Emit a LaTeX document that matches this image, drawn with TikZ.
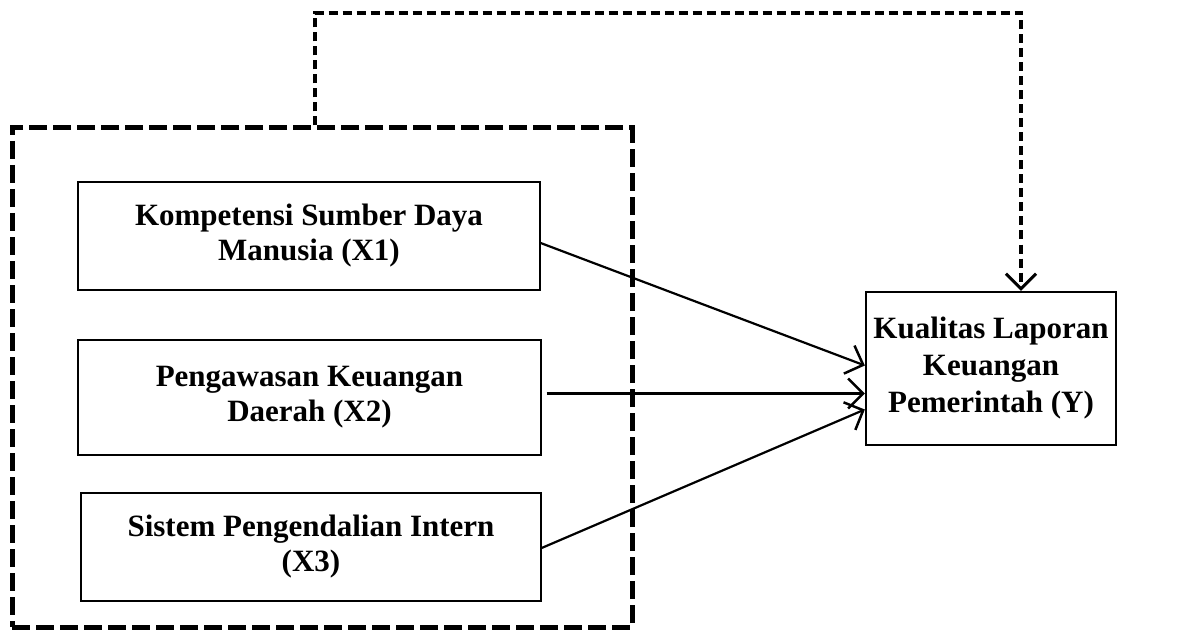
\documentclass[tikz,border=0pt]{standalone}
\usepackage{fontspec}
\setmainfont{Liberation Serif}
\usetikzlibrary{arrows.meta,calc}
\begin{document}
\begin{tikzpicture}[x=1pt,y=-1pt,
  box/.style={draw, line width=1.3pt, font=\bfseries\fontsize{31}{35}\selectfont, align=center, inner sep=0pt},
  grpbox/.style={draw, line width=5pt, dash pattern=on 18pt off 6pt, inner sep=0pt},
  conn/.style={line width=2.2pt, -{Straight Barb[length=15pt,width=30pt,line width=2.5pt]}},
  dconn/.style={line width=3.5pt, dash pattern=on 9pt off 5pt, -{Straight Barb[length=15pt,width=30pt,line width=3pt]}}]
\useasboundingbox (0,0) rectangle (1180,631);
\node[grpbox, minimum width=620pt, minimum height=499pt] (grp) at (322,377.5) {};
\node[box, minimum width=462pt, minimum height=108pt] (b1) at (309,236) {Kompetensi Sumber Daya\\Manusia (X1)};
\node[box, minimum width=463pt, minimum height=115pt] (b2) at (309.5,397.5) {Pengawasan Keuangan\\Daerah (X2)};
\node[box, minimum width=460pt, minimum height=108pt] (b3) at (311,547) {Sistem Pengendalian Intern\\(X3)};
\node[box, line width=2.3pt, minimum width=250pt, minimum height=153pt, font=\bfseries\fontsize{31}{37}\selectfont] (Y) at (991,368.5) {Kualitas Laporan\\Keuangan\\Pemerintah (Y)};
\coordinate (c1) at (315,13);
\coordinate (c2) at (1021,13);
\draw[conn] ($(b1.east)+(0,7)$) -- ($(Y.west)+(0,-3)$);
\draw[conn] ($(b2.east)+(5,-4)$) -- ($(Y.west)+(0,25)$);
\draw[conn] ($(b3.east)+(0,1)$) -- ($(Y.west)+(0,41)$);
\draw[dconn] (grp.north -| c1) -- (c1) -- (c2) -- (Y.north -| c2);
\end{tikzpicture}
\end{document}
